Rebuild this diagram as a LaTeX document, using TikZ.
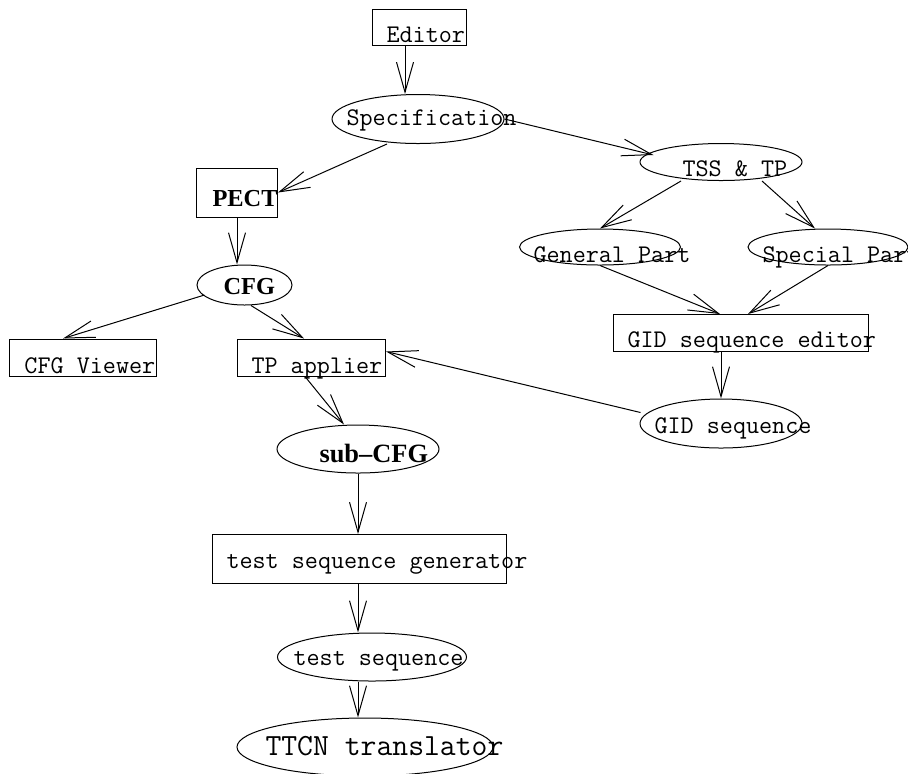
\documentclass[tikz,border=0pt]{standalone}
\usepackage{fontspec}
\usetikzlibrary{calc}
\usetikzlibrary{arrows.meta}
\usetikzlibrary{shapes.geometric}
\newfontfamily\labelbf{Liberation Serif}[Ligatures=TeX]
\definecolor{LINE}{HTML}{000000}

\begin{document}
\begin{tikzpicture}[x=0.5pt, y=-0.5pt, line width=0.5pt,
    box/.style={draw=LINE, rectangle, inner sep=0pt},
    oval/.style={draw=LINE, ellipse, inner sep=0pt},
    txt/.style={LINE, anchor=base west, inner sep=0pt, font=\ttfamily\fontsize{12.7}{15}\selectfont},
    bold/.style={LINE, anchor=base west, inner sep=0pt, font=\labelbf\bfseries\fontsize{12.2}{14}\selectfont},
    flow/.style={LINE, -{Straight Barb[length=15pt, width=8.5pt]}}]
    \clip (0,0) rectangle (908,773);
    % shapes
    \node[box, minimum width=47pt, minimum height=18pt] (editor) at (419,27.5) {};
    \node[oval, minimum width=86pt, minimum height=24.5pt] (spec) at (418,119) {};
    \node[oval, minimum width=81pt, minimum height=18.5pt] (tss) at (721,162) {};
    \node[box, minimum width=40.5pt, minimum height=24.5pt] (pect) at (237,192.5) {};
    \node[oval, minimum width=47.5pt, minimum height=20pt] (cfg) at (244.5,285) {};
    \node[oval, minimum width=80.5pt, minimum height=18pt] (genpart) at (600,247) {};
    \node[oval, minimum width=80pt, minimum height=18pt] (specpart) at (828,247) {};
    \node[box, minimum width=127.5pt, minimum height=18.5pt] (gideditor) at (741,333) {};
    \node[box, minimum width=73.5pt, minimum height=18.5pt] (viewer) at (83,357.5) {};
    \node[box, minimum width=74pt, minimum height=18.5pt] (applier) at (311.5,357.5) {};
    \node[oval, minimum width=81pt, minimum height=24.5pt] (gidseq) at (721,423.5) {};
    \node[oval, minimum width=81pt, minimum height=24pt] (subcfg) at (358,449) {};
    \node[box, minimum width=147pt, minimum height=24.5pt] (tsgen) at (359,559) {};
    \node[oval, minimum width=94.5pt, minimum height=24pt] (testseq) at (372,657) {};
    \node[oval, minimum width=128pt, minimum height=29pt] (ttcn) at (365,747) {};
    % labels
    \node[txt] (t-editor) at (386,42) {Editor};
    \node[txt] (t-spec) at (346,125) {Specification};
    \node[txt] (t-tss) at (682,176) {TSS \& TP};
    \node[bold] (t-pect) at (212,206) {PECT};
    \node[txt] (t-genpart) at (533,262) {General Part};
    \node[txt] (t-specpart) at (762,262) {Special Part};
    \node[bold] (t-cfg) at (223,294) {CFG};
    \node[txt] (t-gideditor) at (627,347) {GID sequence editor};
    \node[txt] (t-viewer) at (24,373) {CFG Viewer};
    \node[txt] (t-applier) at (251,373) {TP applier};
    \node[txt] (t-gidseq) at (654,433) {GID sequence};
    \node[bold, font=\labelbf\bfseries\fontsize{13.2}{15}\selectfont] (t-subcfg) at (319,462) {sub--CFG};
    \node[txt] (t-tsgen) at (226,568) {test sequence generator};
    \node[txt] (t-testseq) at (293,665) {test sequence};
    \node[txt, font=\ttfamily\fontsize{15.4}{18}\selectfont] (t-ttcn) at (265,755) {TTCN translator};
    % arrows
    \draw[flow] ($(editor.south)+(-14,0)$) -- ($(spec.north)+(-13,0)$);
    \draw[flow] ($(spec.south)+(-31,0)$) -- (pect.east);
    \draw[flow] (spec.east) -- ($(tss.west)+(14,-7)$);
    \draw[flow] ($(tss.south)+(-40,0)$) -- (genpart.north);
    \draw[flow] ($(tss.south)+(41,0)$) -- ($(specpart.north)+(-13,0)$);
    \draw[flow] (pect.south) -- ($(cfg.north)+(-7.5,0)$);
    \draw[flow] ($(cfg.west)+(8,10)$) -- ($(viewer.north)+(-20,0)$);
    \draw[flow] ($(cfg.south)+(6.5,0)$) -- ($(applier.north)+(-7.5,0)$);
    \draw[flow] (genpart.south) -- ($(gideditor.north)+(-21,0)$);
    \draw[flow] (specpart.south) -- ($(gideditor.north)+(7,0)$);
    \draw[flow] ($(gideditor.south)+(-20,0)$) -- (gidseq.north);
    \draw[flow] ($(gidseq.west)+(1,-11)$) -- ($(applier.east)+(0,-6)$);
    \draw[flow] ($(applier.south)+(-6.5,0)$) -- ($(subcfg.north)+(-14,0)$);
    \draw[flow] (subcfg.south) -- ($(tsgen.north)+(-1,0)$);
    \draw[flow] ($(tsgen.south)+(-1,0)$) -- ($(testseq.north)+(-14,0)$);
    \draw[flow] ($(testseq.south)+(-14,0)$) -- ($(ttcn.north)+(-7,0)$);
\end{tikzpicture}
\end{document}
